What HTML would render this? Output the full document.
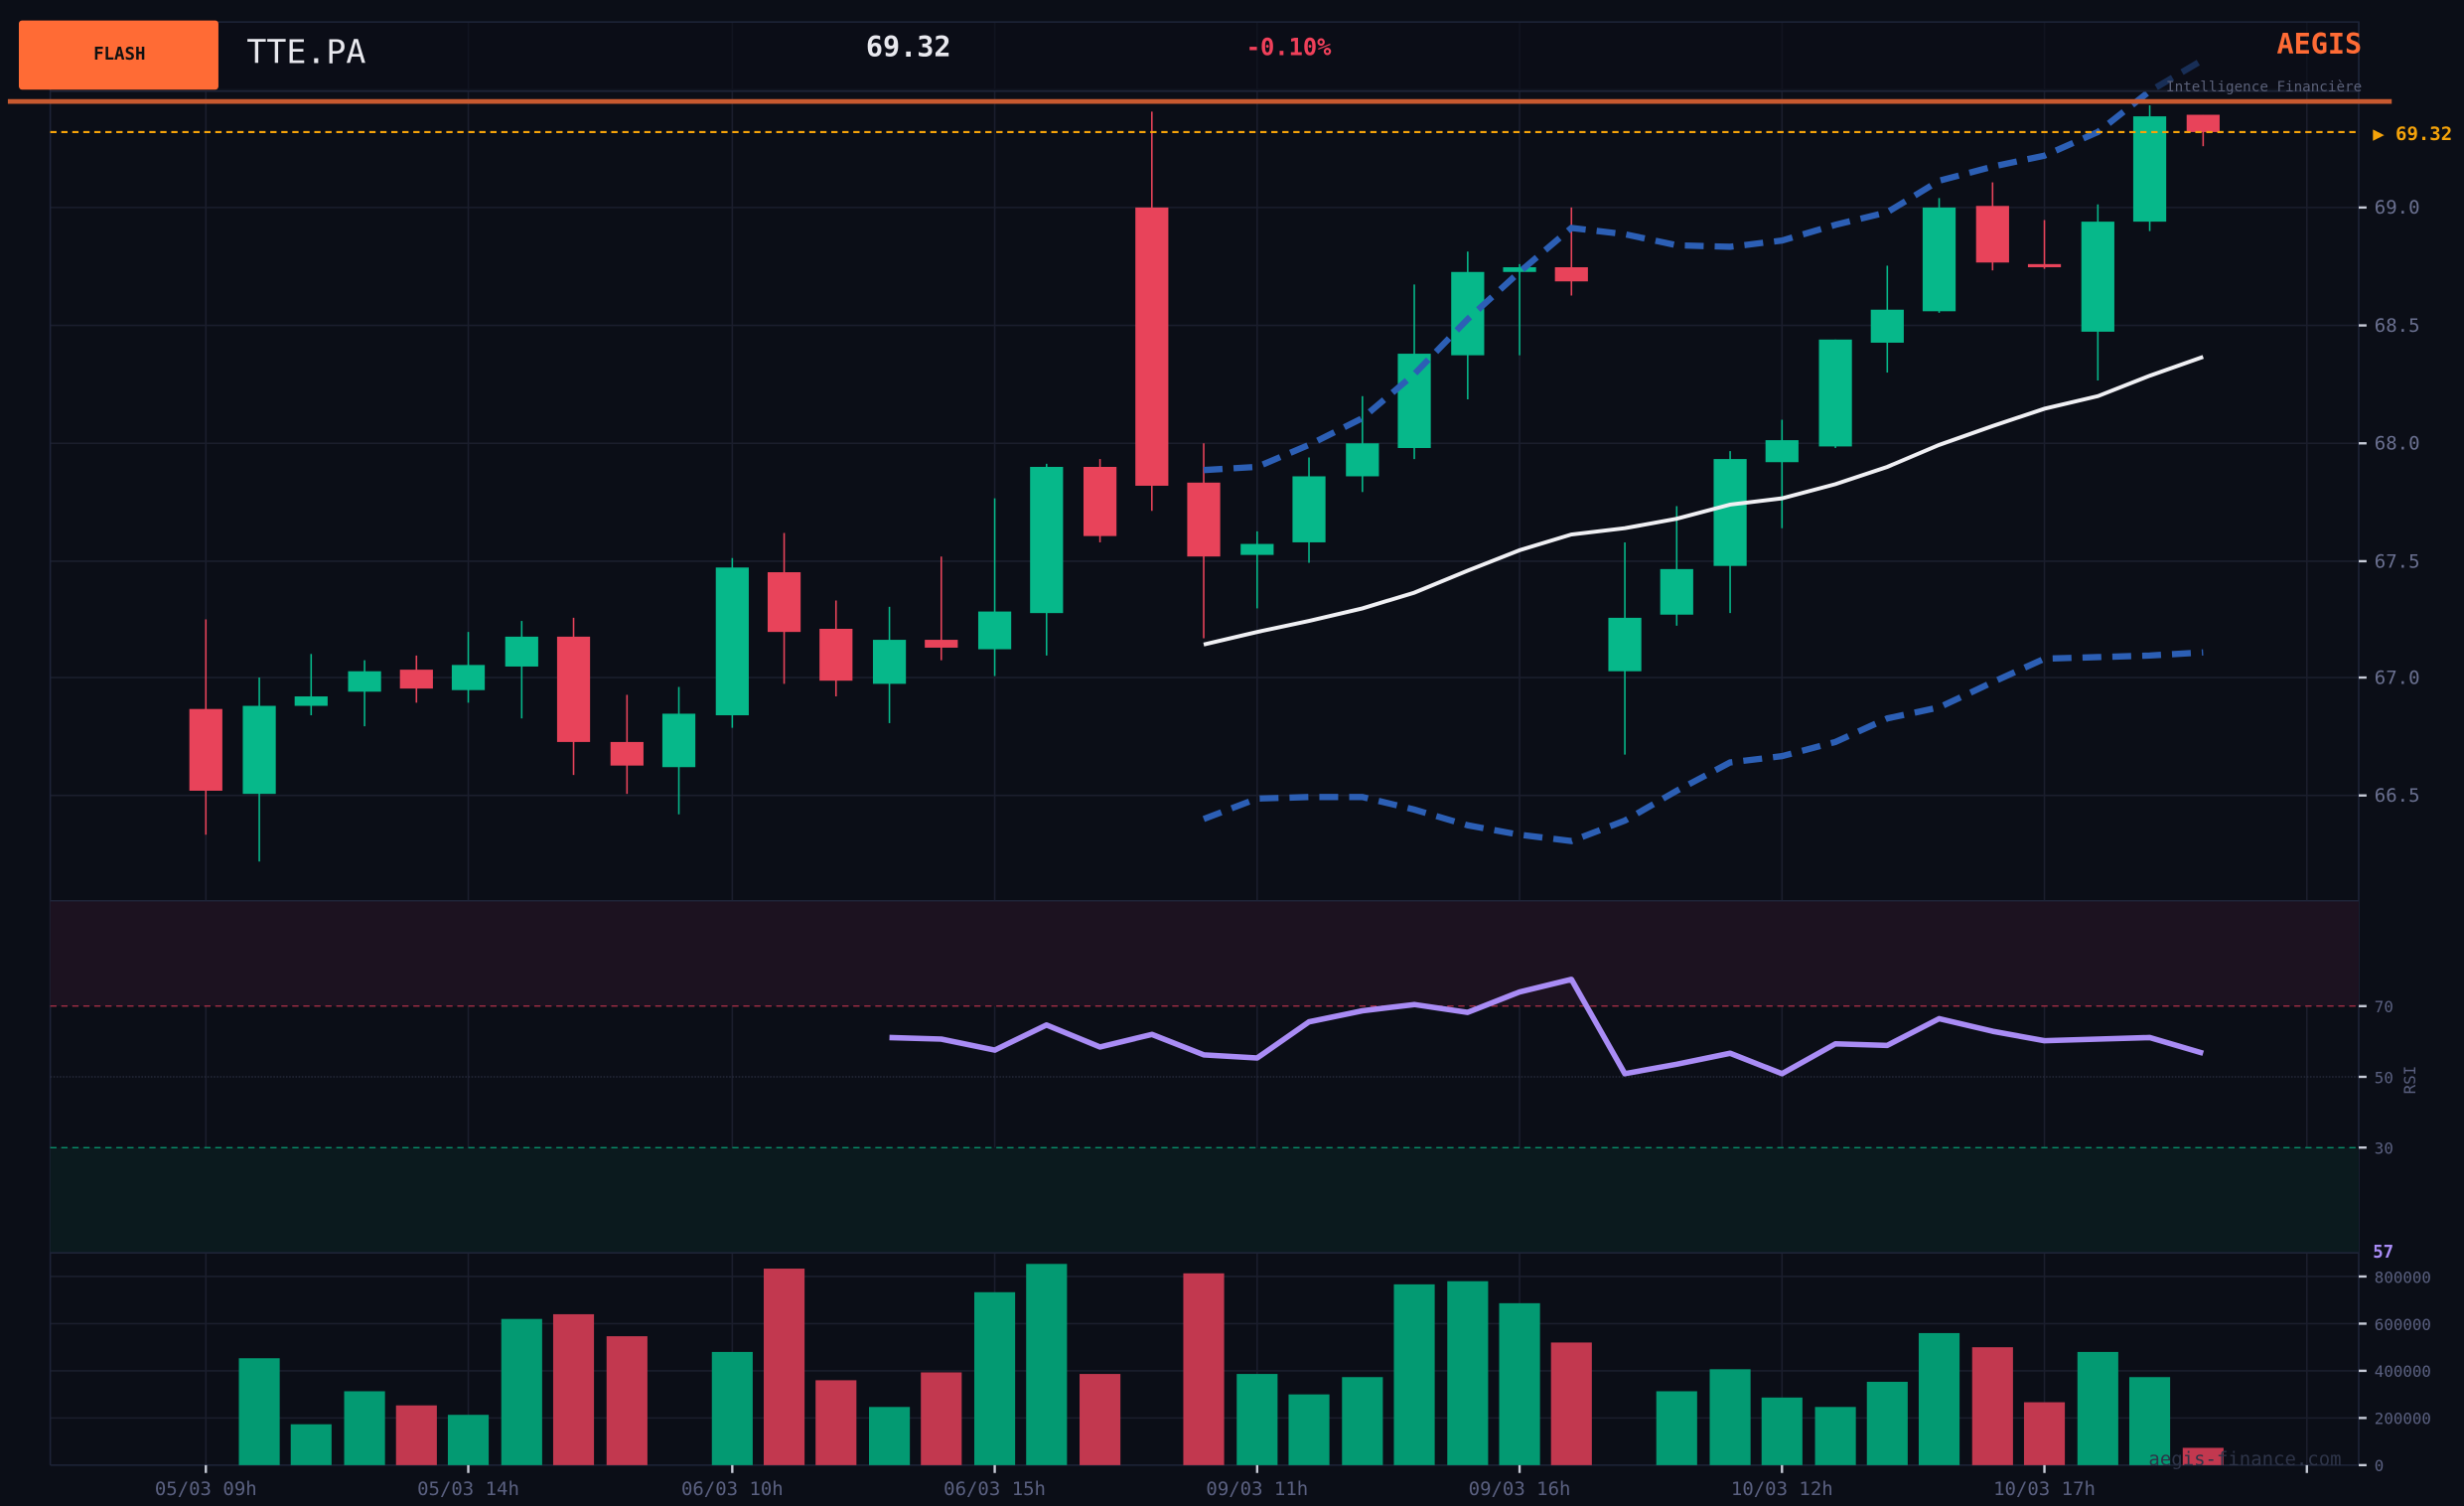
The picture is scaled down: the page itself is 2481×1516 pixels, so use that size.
<!DOCTYPE html>
<html><head><meta charset="utf-8"><style>
html,body{margin:0;padding:0;background:#0b0e17;}
svg{display:block;}
text{font-family:"DejaVu Sans Mono","Liberation Mono",monospace;}
</style></head><body>
<svg id="s" width="2481" height="1516" viewBox="0 0 1568 958" preserveAspectRatio="none" xmlns="http://www.w3.org/2000/svg">
<rect width="1568" height="958" fill="#0b0e17"/>
<g id="grid" stroke="#1b1e2d" stroke-width="1"></g>
<!-- RSI zones -->
<rect x="32" y="573" width="1469" height="67" fill="#1c1220"/>
<rect x="32" y="730" width="1469" height="67" fill="#0b1a1e"/>
<line x1="32" y1="640" x2="1501" y2="640" stroke="#b03048" stroke-dasharray="4,3" stroke-width="0.8"/>
<line x1="32" y1="685" x2="1501" y2="685" stroke="#2a2e40" stroke-dasharray="1,1" stroke-width="0.8"/>
<line x1="32" y1="730" x2="1501" y2="730" stroke="#089c73" stroke-dasharray="4,3" stroke-width="0.8"/>
<line x1="32" y1="797" x2="1501" y2="797" stroke="#1e2438" stroke-width="1"/>
<line x1="32" y1="573" x2="1501" y2="573" stroke="#1e2438" stroke-width="1"/>
<g id="vol"></g>
<g id="candles"></g>
<polyline id="rsi" fill="none" stroke="#a98cf5" stroke-width="3.5" stroke-linejoin="round"/>
<polyline id="ma" fill="none" stroke="#f0f0f4" stroke-width="2.5"/>
<polyline id="bbu" fill="none" stroke="#2c5fb5" stroke-width="4" stroke-dasharray="12,7"/>
<polyline id="bbl" fill="none" stroke="#2c5fb5" stroke-width="4" stroke-dasharray="12,7"/>
<!-- header -->
<rect x="32" y="14" width="1469" height="44" fill="#0b0e17" fill-opacity="0.6" stroke="#1e2438" stroke-width="1"/>
<rect x="12" y="13" width="127" height="44" rx="2" fill="#ff6b35"/>
<text x="76" y="38" font-size="11" font-weight="bold" fill="#111" text-anchor="middle">FLASH</text>
<text x="157" y="40" font-size="21" fill="#e8e8ee">TTE.PA</text>
<text x="551" y="36" font-size="18" font-weight="bold" fill="#e8e8ee">69.32</text>
<text x="793" y="35" font-size="15" font-weight="bold" fill="#f0405a">-0.10%</text>
<text x="1503" y="34" font-size="18" font-weight="bold" fill="#ff6b35" text-anchor="end">AEGIS</text>
<text x="1503" y="58" font-size="9" fill="#5a6078" text-anchor="end">Intelligence Financière</text>
<line x1="5" y1="64.5" x2="1522" y2="64.5" stroke="#c85a30" stroke-width="3"/>
<line x1="32" y1="84" x2="1500" y2="84" stroke="#f5a30a" stroke-width="1.3" stroke-dasharray="4,3"/>
<text x="1510" y="89" font-size="12" font-weight="bold" fill="#f5a30a">▶ 69.32</text>
<!-- axes labels -->
<g font-size="12" fill="#6a7090">
<text x="1511" y="136">69.0</text><text x="1511" y="211">68.5</text><text x="1511" y="286">68.0</text>
<text x="1511" y="361">67.5</text><text x="1511" y="435">67.0</text><text x="1511" y="510">66.5</text>
</g>
<g font-size="10" fill="#5a6080">
<text x="1511" y="644">70</text><text x="1511" y="689">50</text><text x="1511" y="734">30</text>
<text x="1511" y="816">800000</text><text x="1511" y="846">600000</text><text x="1511" y="876">400000</text><text x="1511" y="906">200000</text><text x="1511" y="936">0</text>
<text transform="translate(1537,687) rotate(-90)" text-anchor="middle">RSI</text>
</g>
<text x="1510" y="800" font-size="11" font-weight="bold" fill="#a98cf5">57</text>
<text x="1490" y="932" font-size="12" fill="#2e3448" text-anchor="end">aegis-finance.com</text>
<g font-size="12" fill="#5a6080" text-anchor="middle">
<text x="131" y="951">05/03 09h</text><text x="298" y="951">05/03 14h</text><text x="466" y="951">06/03 10h</text><text x="633" y="951">06/03 15h</text>
<text x="800" y="951">09/03 11h</text><text x="967" y="951">09/03 16h</text><text x="1134" y="951">10/03 12h</text><text x="1301" y="951">10/03 17h</text>
</g>
<g id="ticks" stroke="#c8ccd8" stroke-width="1.5"></g>
</svg>
<script>
var NS="http://www.w3.org/2000/svg";
function el(p,t,a){var e=document.createElementNS(NS,t);for(var k in a)e.setAttribute(k,a[k]);document.getElementById(p).appendChild(e);}
// grid
[57,132,207,282,357,431,506].forEach(function(y){el("grid","line",{x1:32,x2:1501,y1:y,y2:y});});
[812,842,872,902].forEach(function(y){el("grid","line",{x1:32,x2:1501,y1:y,y2:y});});
[131,298,466,633,800,967,1134,1301,1468].forEach(function(x){el("grid","line",{x1:x,x2:x,y1:14,y2:932});el("ticks","line",{x1:x,x2:x,y1:932,y2:937});});
el("grid","line",{x1:32,x2:32,y1:14,y2:932,stroke:"#1e2438"});
el("grid","line",{x1:1501,x2:1501,y1:14,y2:932,stroke:"#1e2438"});
el("grid","line",{x1:32,x2:1501,y1:932,y2:932,stroke:"#1e2438"});
[132,207,282,357,431,506,640,685,730,812,842,872,902,932].forEach(function(y){el("ticks","line",{x1:1501,x2:1506,y1:y,y2:y});});
var C=[
[131,0,451,503,394,531],[165,1,449,505,431,548],[198,1,443,449,416,455],[232,1,427,440,420,462],[265,0,426,438,417,447],
[298,1,423,439,402,447],[332,1,405,424,395,457],[365,0,405,472,393,493],[399,0,472,487,442,505],[432,1,454,488,437,518],
[466,1,361,455,355,463],[499,0,364,402,339,435],[532,0,400,433,382,443],[566,1,407,435,386,460],[599,0,407,412,354,420],
[633,1,389,413,317,430],[666,1,297,390,295,417],[700,0,297,341,292,345],[733,0,132,309,71,325],[766,0,307,354,282,406],
[800,1,346,353,338,387],[833,1,303,345,291,358],[867,1,282,303,252,313],[900,1,225,285,181,292],[934,1,173,226,160,254],
[967,1,170,173,168,226],[1000,0,170,179,132,188],[1034,1,393,427,345,480],[1067,1,362,391,322,398],[1101,1,292,360,287,390],
[1134,1,280,294,267,336],[1168,1,216,284,216,285],[1201,1,197,218,169,237],[1234,1,132,198,126,199],[1268,0,131,167,116,172],
[1301,0,168,170,140,171],[1335,1,141,211,130,242],[1368,1,74,141,67,147],[1402,0,73,84,73,93]];
C.forEach(function(c){var col=c[1]?"#06b88a":"#e8435a";
el("candles","line",{x1:c[0],x2:c[0],y1:c[4],y2:c[5],stroke:col,"stroke-width":1});
el("candles","rect",{x:c[0]-10.5,y:c[2],width:21,height:Math.max(2,c[3]-c[2]),fill:col});});
var V=[[165,1,864],[198,1,906],[232,1,885],[265,0,894],[298,1,900],[332,1,839],[365,0,836],[399,0,850],[466,1,860],[499,0,807],[532,0,878],[566,1,895],[599,0,873],[633,1,822],[666,1,804],[700,0,874],[766,0,810],[800,1,874],[833,1,887],[867,1,876],[900,1,817],[934,1,815],[967,1,829],[1000,0,854],[1067,1,885],[1101,1,871],[1134,1,889],[1168,1,895],[1201,1,879],[1234,1,848],[1268,0,857],[1301,0,892],[1335,1,860],[1368,1,876],[1402,0,921]];
V.forEach(function(v){el("vol","rect",{x:v[0]-13,y:v[2],width:26,height:932-v[2],fill:v[1]?"#039a72":"#c2384f"});});
document.getElementById("ma").setAttribute("points","766,410 800,402 833,395 867,387 900,377 934,363 967,350 1000,340 1034,336 1067,330 1101,321 1134,317 1168,308 1201,297 1234,283 1268,271 1301,260 1335,252 1368,239 1402,227");
document.getElementById("bbu").setAttribute("points","766,299 800,297 833,283 867,266 900,238 934,203 967,173 1000,145 1034,149 1067,156 1101,157 1134,153 1168,143 1201,135 1234,115 1268,106 1301,99 1335,84 1368,58 1402,38");
document.getElementById("bbl").setAttribute("points","766,521 800,508 833,507 867,507 900,515 934,525 967,531 1000,535 1034,522 1067,503 1101,485 1134,481 1168,472 1201,457 1234,450 1268,434 1301,419 1335,418 1368,417 1402,415");
document.getElementById("rsi").setAttribute("points","566,660 599,661 633,668 666,652 700,666 733,658 766,671 800,673 833,650 867,643 900,639 934,644 967,631 1000,623 1034,683 1067,677 1101,670 1134,683 1168,664 1201,665 1234,648 1268,656 1301,662 1335,661 1368,660 1402,670");
</script>
</body></html>
